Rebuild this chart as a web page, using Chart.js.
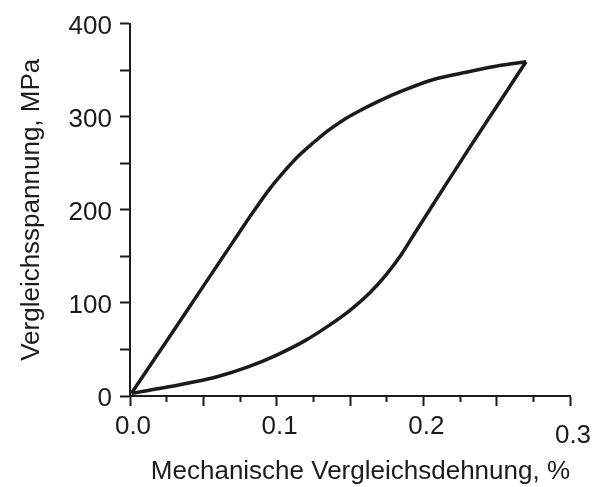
<!DOCTYPE html>
<html>
<head>
<meta charset="utf-8">
<script src="https://cdn.jsdelivr.net/npm/chart.js@4"></script>
<style>
  body { margin: 0; background: #fff; }
  #wrap { width: 603px; height: 487px; }
</style>
</head>
<body>
<div id="wrap"><canvas id="hystChart" width="603" height="487"></canvas></div>
<script>
// Belastung (oben) und Entlastung (unten), Dehnung in %, Spannung in MPa
const loadStrain = [0.001, 0.025, 0.05, 0.07, 0.085, 0.095, 0.105, 0.115, 0.125, 0.135, 0.145, 0.155, 0.17, 0.186, 0.207, 0.23, 0.252, 0.27];
const loadStress = [3, 59, 118, 165, 200, 222, 241, 258, 272, 285, 296, 305, 317, 328, 340, 348, 355, 359];
const unloadStrain = [0.001, 0.02, 0.04, 0.06, 0.08, 0.10, 0.12, 0.135, 0.15, 0.163, 0.175, 0.185, 0.195, 0.21, 0.23, 0.25, 0.27];
const unloadStress = [3, 8, 14, 21, 31, 44, 60, 75, 92, 110, 131, 152, 177, 214, 263, 311, 359];

const xMax = 0.3;
const yMax = 400;
const xLabelTicks = ['0.0', '0.1', '0.2', '0.3'];
const yLabelTicks = ['0', '100', '200', '300', '400'];

const FONT = 'Liberation Sans, Arial, sans-serif';
const INK = '#1b1b1b';

function toPoints(xs, ys) {
    return xs.map((x, i) => ({ x: x, y: ys[i] }));
}

function isMult(v, step) {
    const r = v / step;
    return Math.abs(r - Math.round(r)) < 1e-6;
}

const ctx = document.getElementById('hystChart').getContext('2d');

new Chart(ctx, {
    type: 'line',
    data: {
        datasets: [
            {
                label: 'Belastung',
                data: toPoints(loadStrain, loadStress),
                borderColor: INK,
                borderWidth: 3.5,
                pointRadius: 0,
                cubicInterpolationMode: 'monotone',
                fill: false
            },
            {
                label: 'Entlastung',
                data: toPoints(unloadStrain, unloadStress),
                borderColor: INK,
                borderWidth: 3.5,
                pointRadius: 0,
                cubicInterpolationMode: 'monotone',
                fill: false
            }
        ]
    },
    options: {
        responsive: false,
        animation: false,
        layout: { padding: { left: 0, right: 33, top: 21, bottom: 0 } },
        plugins: {
            legend: { display: false },
            tooltip: { enabled: false }
        },
        scales: {
            x: {
                type: 'linear',
                min: 0,
                max: xMax,
                afterFit: (scale) => { scale.height = 91; },
                border: { display: true, color: INK, width: 2 },
                grid: {
                    drawOnChartArea: false,
                    drawTicks: true,
                    tickLength: 10,
                    tickWidth: 2,
                    tickColor: INK,
                    // kurze Striche zwischen den 0.05-Marken
                    tickBorderDash: (c) => (c.tick && isMult(c.tick.value, 0.05)) ? [] : [5, 20]
                },
                ticks: {
                    stepSize: 0.025,
                    autoSkip: false,
                    maxRotation: 0,
                    padding: 5,
                    labelOffset: 3,
                    color: INK,
                    font: (c) => {
                        const f = { family: FONT, size: 26 };
                        if (c.tick && Math.abs(c.tick.value - xMax) < 1e-6) f.lineHeight = '50px';
                        return f;
                    },
                    callback: (v) => {
                        if (!isMult(v, 0.1)) return '';
                        return xLabelTicks[Math.round(v * 10)];
                    }
                },
                title: {
                    display: true,
                    align: 'end',
                    text: 'Mechanische Vergleichsdehnung, %',
                    color: INK,
                    font: { family: FONT, size: 26 },
                    padding: { top: 0, bottom: 0 }
                }
            },
            y: {
                type: 'linear',
                min: 0,
                max: yMax,
                afterFit: (scale) => { scale.width = 130; },
                border: { display: true, color: INK, width: 2 },
                grid: {
                    drawOnChartArea: false,
                    drawTicks: true,
                    tickLength: 10,
                    tickWidth: 2,
                    tickColor: INK
                },
                ticks: {
                    stepSize: 50,
                    autoSkip: false,
                    padding: 8,
                    labelOffset: 3,
                    color: INK,
                    font: { family: FONT, size: 26 },
                    callback: (v) => isMult(v, 100) ? yLabelTicks[Math.round(v / 100)] : ''
                },
                title: {
                    display: true,
                    text: 'Vergleichsspannung, MPa',
                    color: INK,
                    font: { family: FONT, size: 26 },
                    padding: { top: 16, bottom: 0 }
                }
            }
        }
    }
});
</script>
</body>
</html>
